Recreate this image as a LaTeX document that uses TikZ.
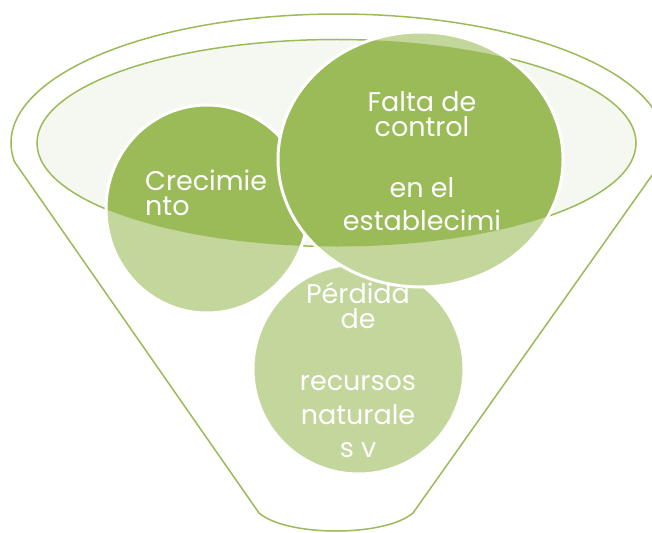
\documentclass[tikz,border=0pt]{standalone}
\usepackage{fontspec, tikz, xcolor}
\setmainfont{Poppins}

\definecolor{funnelgreen}{HTML}{9BBB59}
\definecolor{funnellight}{HTML}{C3D69B}
\definecolor{funnelpale}{HTML}{F5F8F1}

\begin{document}
\begin{tikzpicture}[x=1pt, y=-1pt,
    funnel line/.style={draw=funnelgreen, line width=1.5pt},
    ball edge/.style={draw=white, line width=3pt},
    ball text/.style={text=white, font=\fontsize{27}{25}\selectfont, inner sep=0pt, align=center}]
    \useasboundingbox (0,0) rectangle (652,532);
    \clip (0,0) rectangle (652,532);
    % funnel and its mouth
    \draw [funnel line] (14.6,162) arc [start angle=171.53, end angle=368.47, x radius=327, y radius=129]
        -- (413,513) .. controls (385,537) and (287,537) .. (259,513) -- cycle;
    \draw [funnel line, fill=funnelpale] (336.5,143) ellipse [x radius=299.5, y radius=103.5];
    % bottom ball
    \fill [funnellight] (358.5,369) ellipse [x radius=104.5, y radius=104];
    \draw [white, line width=1pt] (358.5,369) ellipse [x radius=104.5, y radius=104];
    \node [ball text, anchor=north] (perdida) at (358,282) {Pérdida\\de\\[37pt]recursos\\[9pt]naturale\\[8pt]s v};
    % left ball
    \fill [funnellight] (207,209) ellipse [x radius=101, y radius=104];
    \begin{scope}
        \clip (336.5,143) ellipse [x radius=299.5, y radius=103.5];
        \fill [funnelgreen] (207,209) ellipse [x radius=101, y radius=104];
    \end{scope}
    \draw [ball edge] (207,209) ellipse [x radius=101, y radius=104];
    \node [ball text, align=left, anchor=north west] (crecimiento) at (145,170) {Crecimie\\nto};
    % right ball
    \fill [funnellight] (420.5,159.5) ellipse [x radius=142.5, y radius=127.5];
    \begin{scope}
        \clip (336.5,143) ellipse [x radius=299.5, y radius=103.5];
        \fill [funnelgreen] (420.5,159.5) ellipse [x radius=142.5, y radius=127.5];
    \end{scope}
    \draw [ball edge] (420.5,159.5) ellipse [x radius=142.5, y radius=127.5];
    \node [ball text, anchor=north] (falta) at (422,91) {Falta de\\control\\[36pt]en el\\[8pt]establecimi};
\end{tikzpicture}
\end{document}
